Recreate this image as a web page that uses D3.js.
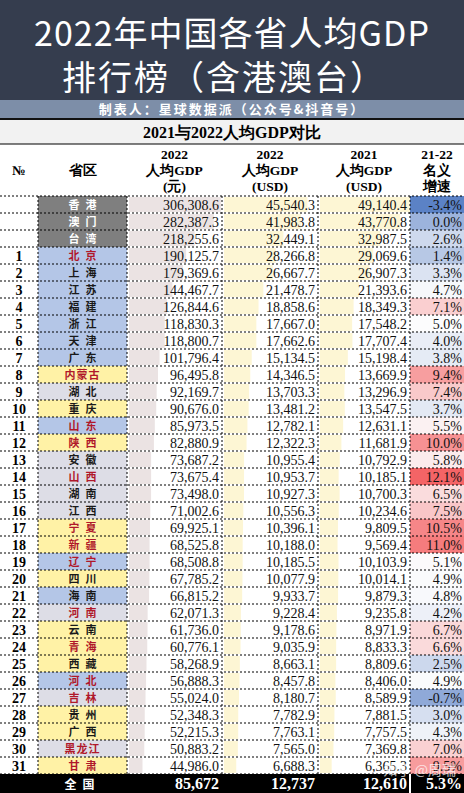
<!DOCTYPE html>
<html><head><meta charset="utf-8">
<script src="https://cdn.jsdelivr.net/npm/d3@7"></script>
<style>body{margin:0;background:#fff}svg{display:block}</style>
</head><body><div id="c"></div>
<script>
const names=["香港","澳门","台湾","北京","上海","江苏","福建","浙江","天津","广东","内蒙古","湖北","重庆","山东","陕西","安徽","山西","湖南","江西","宁夏","新疆","辽宁","四川","海南","河南","云南","青海","西藏","河北","吉林","贵州","广西","黑龙江","甘肃"];
const ranks=["","","","1","2","3","4","5","6","7","8","9","10","11","12","13","14","15","16","17","18","19","20","21","22","23","24","25","26","27","28","29","30","31"];
const gdpCny=[306308.6,282387.3,218255.6,190125.7,179369.6,144467.7,126844.6,118830.3,118800.7,101796.4,96495.8,92169.7,90676.0,85973.5,82880.9,73687.2,73675.4,73498.0,71002.6,69925.1,68525.8,68508.8,67785.2,66815.2,62071.3,61736.0,60776.1,58268.9,56888.3,55024.0,52348.3,52215.3,50883.2,44986.0];
const usd2022=[45540.3,41983.8,32449.1,28266.8,26667.7,21478.7,18858.6,17667.0,17662.6,15134.5,14346.5,13703.3,13481.2,12782.1,12322.3,10955.4,10953.7,10927.3,10556.3,10396.1,10188.0,10185.5,10077.9,9933.7,9228.4,9178.6,9035.9,8663.1,8457.8,8180.7,7782.9,7763.1,7565.0,6688.3];
const usd2021=[49140.4,43770.8,32987.5,29069.6,26907.3,21393.6,18349.3,17548.2,17707.4,15198.4,13669.9,13296.9,13547.5,12631.1,11681.9,10792.9,10185.1,10700.3,10234.6,9809.5,9569.4,10103.9,10014.1,9879.3,9235.8,8971.9,8833.3,8809.6,8406.0,8589.9,7881.5,7757.5,7369.8,6365.3];
const growth=[-3.4,0.0,2.6,1.4,3.3,4.7,7.1,5.0,4.0,3.8,9.4,7.4,3.7,5.5,10.0,5.8,12.1,6.5,7.5,10.5,11.0,5.1,4.9,4.8,4.2,6.7,6.6,2.5,4.9,-0.7,3.0,4.3,7.0,9.5];
const groups=["g","g","g","e","e","e","e","e","e","e","w","c","w","e","w","c","c","c","c","w","w","e","w","e","c","w","w","w","e","c","w","w","c","w"];
const redText=["北京","内蒙古","山东","陕西","山西","宁夏","新疆","辽宁","河南","青海","河北","吉林","黑龙江","甘肃"];
const national=["全国","85,672","12,737","12,610","5.3%"];
const headers=[["№"],["省区"],["2022","人均GDP","(元)"],["2022","人均GDP","(USD)"],["2021","人均GDP","(USD)"],["21-22","名义","增速"]];

const W=464,H=793;
const svg=d3.select("#c").append("svg").attr("width",W).attr("height",H);
const cx=[0,38,127,222,318,410,464];
const rowTop=196, rh=17;
const y=d3.scaleBand().domain(d3.range(names.length)).range([rowTop,rowTop+rh*names.length]);
const serif="'Liberation Serif','DejaVu Serif',serif";
const cjk="'Noto Sans CJK SC',sans-serif";

svg.append("rect").attr("width",W).attr("height",100).attr("fill","#353d4e");
svg.append("text").attr("x",W/2).attr("y",46).attr("text-anchor","middle").attr("fill","#fff")
 .attr("font-family",cjk).attr("font-size",34).attr("letter-spacing",1).attr("font-weight",400).text("2022年中国各省人均GDP");
svg.append("text").attr("x",W/2-8).attr("y",90).attr("text-anchor","middle").attr("fill","#fff")
 .attr("font-family",cjk).attr("font-size",34).attr("letter-spacing",2).attr("font-weight",400).text("排行榜（含港澳台）");
svg.append("rect").attr("y",100).attr("width",W).attr("height",18).attr("fill","#7d8ea8");
svg.append("text").attr("x",W/2).attr("y",114).attr("text-anchor","middle").attr("fill","#fff")
 .attr("font-family",cjk).attr("font-weight",700).attr("font-size",13).attr("letter-spacing",2).text("制表人：星球数据派（公众号&抖音号）");
svg.append("rect").attr("y",118).attr("width",W).attr("height",2).attr("fill","#111");
svg.append("rect").attr("y",120).attr("width",W).attr("height",24).attr("fill","#f2f2f2");
svg.append("text").attr("x",W/2).attr("y",138).attr("text-anchor","middle").attr("fill","#000")
 .attr("font-family",serif).attr("font-weight",700).attr("font-size",16).text("2021与2022人均GDP对比");
svg.append("line").attr("x1",0).attr("x2",W).attr("y1",144).attr("y2",144).attr("stroke","#000");

headers.forEach((h,i)=>{
  const mid=(cx[i]+cx[i+1])/2;
  const t=svg.append("text").attr("text-anchor","middle").attr("font-family",serif).attr("font-weight",700).attr("font-size",13.5).attr("fill","#000");
  const y0=h.length===1?175:159;
  h.forEach((s,k)=>t.append("tspan").attr("x",mid).attr("y",y0+k*16).text(s));
});

const xc=d3.scaleLinear().domain([0,306308.6]).range([0,92]);
const xu=d3.scaleLinear().domain([0,49140.4]).range([0,90]);
const gc=d3.scaleLinear().domain([-3.4,5,12.1]).range(["#5b82c6","#fcfcfd","#f46466"]);
const pc={g:"#7f7f7f",e:"#b4c6e7",w:"#fff2a6",c:"#dddde6"};
const fmt=d3.format(",.1f");

names.forEach((n,i)=>{
  const yt=y(i);
  const g=svg.append("g");
  g.append("rect").attr("x",cx[1]).attr("y",yt).attr("width",cx[2]-cx[1]).attr("height",rh).attr("fill",pc[groups[i]]);
  g.append("rect").attr("x",cx[2]+2).attr("y",yt+1).attr("width",xc(gdpCny[i])).attr("height",rh-2).attr("fill","#ebe3e3");
  g.append("rect").attr("x",cx[3]+2).attr("y",yt+1).attr("width",xu(usd2022[i])).attr("height",rh-2).attr("fill","#fdf6d4");
  g.append("rect").attr("x",cx[4]+2).attr("y",yt+1).attr("width",xu(usd2021[i])).attr("height",rh-2).attr("fill","#fdf6d4");
  g.append("rect").attr("x",cx[5]).attr("y",yt).attr("width",cx[6]-cx[5]).attr("height",rh).attr("fill",gc(growth[i]));
  const by=yt+13.5;
  g.append("text").attr("x",19).attr("y",by).attr("text-anchor","middle").attr("font-family",serif).attr("font-weight",700).attr("font-size",14).text(ranks[i]);
  const tc=groups[i]==="g"?"#fff":(redText.includes(n)?"#b0182a":"#1a1a1a");
  g.append("text").attr("x",(cx[1]+cx[2])/2).attr("y",yt+12.5).attr("text-anchor","middle").attr("font-family",cjk).attr("font-weight",700)
   .attr("font-size",11).attr("letter-spacing",n.length===2?6:1).attr("dx",n.length===2?3:0).attr("fill",tc).text(n);
  [[gdpCny[i],cx[3]-3],[usd2022[i],cx[4]-3],[usd2021[i],cx[5]-3]].forEach(([v,x])=>
    g.append("text").attr("x",x).attr("y",by).attr("text-anchor","end").attr("font-family",serif).attr("font-size",14).attr("fill","#111").text(fmt(v)));
  g.append("text").attr("x",W-2).attr("y",by).attr("text-anchor","end").attr("font-family",serif).attr("font-size",14).attr("fill","#111").text(growth[i].toFixed(1)+"%");
});

const gridBottom=rowTop+rh*names.length;
d3.range(names.length+1).forEach(k=>svg.append("line").attr("x1",0).attr("x2",W).attr("y1",rowTop+k*rh).attr("y2",rowTop+k*rh)
  .attr("stroke","#000").attr("stroke-dasharray","2,2").attr("stroke-width",1));
cx.slice(1,6).forEach(x=>svg.append("line").attr("x1",x).attr("x2",x).attr("y1",rowTop).attr("y2",gridBottom)
  .attr("stroke","#000").attr("stroke-dasharray","2,2"));

svg.append("rect").attr("y",gridBottom).attr("width",W).attr("height",H-gridBottom).attr("fill","#000");
svg.append("line").attr("x1",cx[5]).attr("x2",cx[5]).attr("y1",gridBottom).attr("y2",H).attr("stroke","#fff").attr("stroke-width",2);
const nx=[(cx[1]+cx[2])/2,cx[3]-3,cx[4]-3,cx[5]-3,W-2];
national.forEach((s,i)=>svg.append("text").attr("x",nx[i]).attr("y",gridBottom+15).attr("text-anchor",i===0?"middle":"end")
  .attr("font-family",i===0?cjk:serif).attr("font-weight",700).attr("font-size",i===0?12:16).attr("letter-spacing",i===0?6:0).attr("fill","#fff").text(s));
svg.append("text").attr("x",456).attr("y",775).attr("text-anchor","end").attr("font-family",cjk).attr("font-size",14).attr("fill","#fff").attr("opacity",0.7).text("知乎 @周瑞");
</script></body></html>
